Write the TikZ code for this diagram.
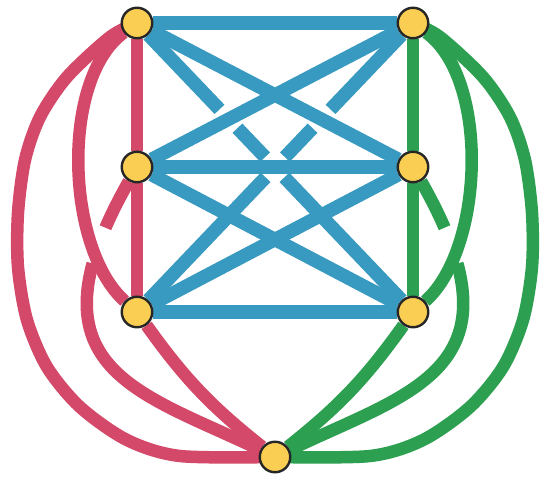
\documentclass[tikz,border=0pt]{standalone}
\definecolor{redE}{RGB}{212,72,105}
\definecolor{blueE}{RGB}{56,154,192}
\definecolor{greenE}{RGB}{44,160,80}
\definecolor{nodeY}{RGB}{250,206,82}
\pgfdeclarelayer{bgfill}
\pgfdeclarelayer{edges}
\pgfsetlayers{bgfill,edges,main}
\begin{document}
\begin{tikzpicture}[x=1pt,y=1pt,
  vtx/.style={circle,draw=black!85,line width=2.4pt,fill=nodeY,minimum size=30.5pt,inner sep=0pt},
  bedge/.style={draw=blueE,line width=13.5pt},
  redge/.style={draw=redE,line width=12.5pt},
  gedge/.style={draw=greenE,line width=12.5pt},
  gapd/.style={dash pattern=on 103pt off 26pt on 40pt off 28pt on 400pt off 10pt},
  gapc/.style={dash pattern=on 52pt off 38pt on 600pt off 10pt}]
\useasboundingbox (0,0) rectangle (540,477);
\begin{pgfonlayer}{bgfill}
\fill[white] (0,0) rectangle (540,477);
\end{pgfonlayer}
\node[vtx] (L1) at (137,454) {};
\node[vtx] (L2) at (137,310) {};
\node[vtx] (L3) at (137,165) {};
\node[vtx] (R1) at (413,454) {};
\node[vtx] (R2) at (413,310) {};
\node[vtx] (R3) at (413,165) {};
\node[vtx] (B) at (275,20) {};
\begin{pgfonlayer}{edges}
% blue
\draw[bedge] (L1) -- (R1);
\draw[bedge] (L2) -- (R2);
\draw[bedge] (L3) -- (R3);
\draw[bedge] (L1) -- (R2);
\draw[bedge] (L2) -- (R1);
\draw[bedge] (L2) -- (R3);
\draw[bedge] (L3) -- (R2);
\draw[bedge,gapd] (L1) -- (R3);
\draw[bedge,gapd] (R1) -- (L3);
% red
\draw[redge] (L1) -- (L2);
\draw[redge] (L2) -- (L3);
\draw[redge] (L1) .. controls (60,398) and (66,228) .. (L3);
\draw[redge] plot[smooth] coordinates {(L1.center) (110,440) (67,400) (40,360) (25,317) (18,264) (18,210) (27,157) (47,110) (80,70) (127,37) (180,21) (B.center)};
\draw[redge,gapc] (L2) .. controls (22,108) and (138,86) .. (B);
\draw[redge] (L3) to[bend right=8] (B);
% green
\draw[gedge] (R1) -- (R2);
\draw[gedge] (R2) -- (R3);
\draw[gedge] (R1) .. controls (490,398) and (484,228) .. (R3);
\draw[gedge] plot[smooth] coordinates {(R1.center) (440,440) (483,400) (510,360) (525,317) (532,264) (532,210) (523,157) (503,110) (470,70) (423,37) (370,21) (B.center)};
\draw[gedge,gapc] (R2) .. controls (528,108) and (412,86) .. (B);
\draw[gedge] (R3) to[bend left=8] (B);
\end{pgfonlayer}
\end{tikzpicture}
\end{document}
